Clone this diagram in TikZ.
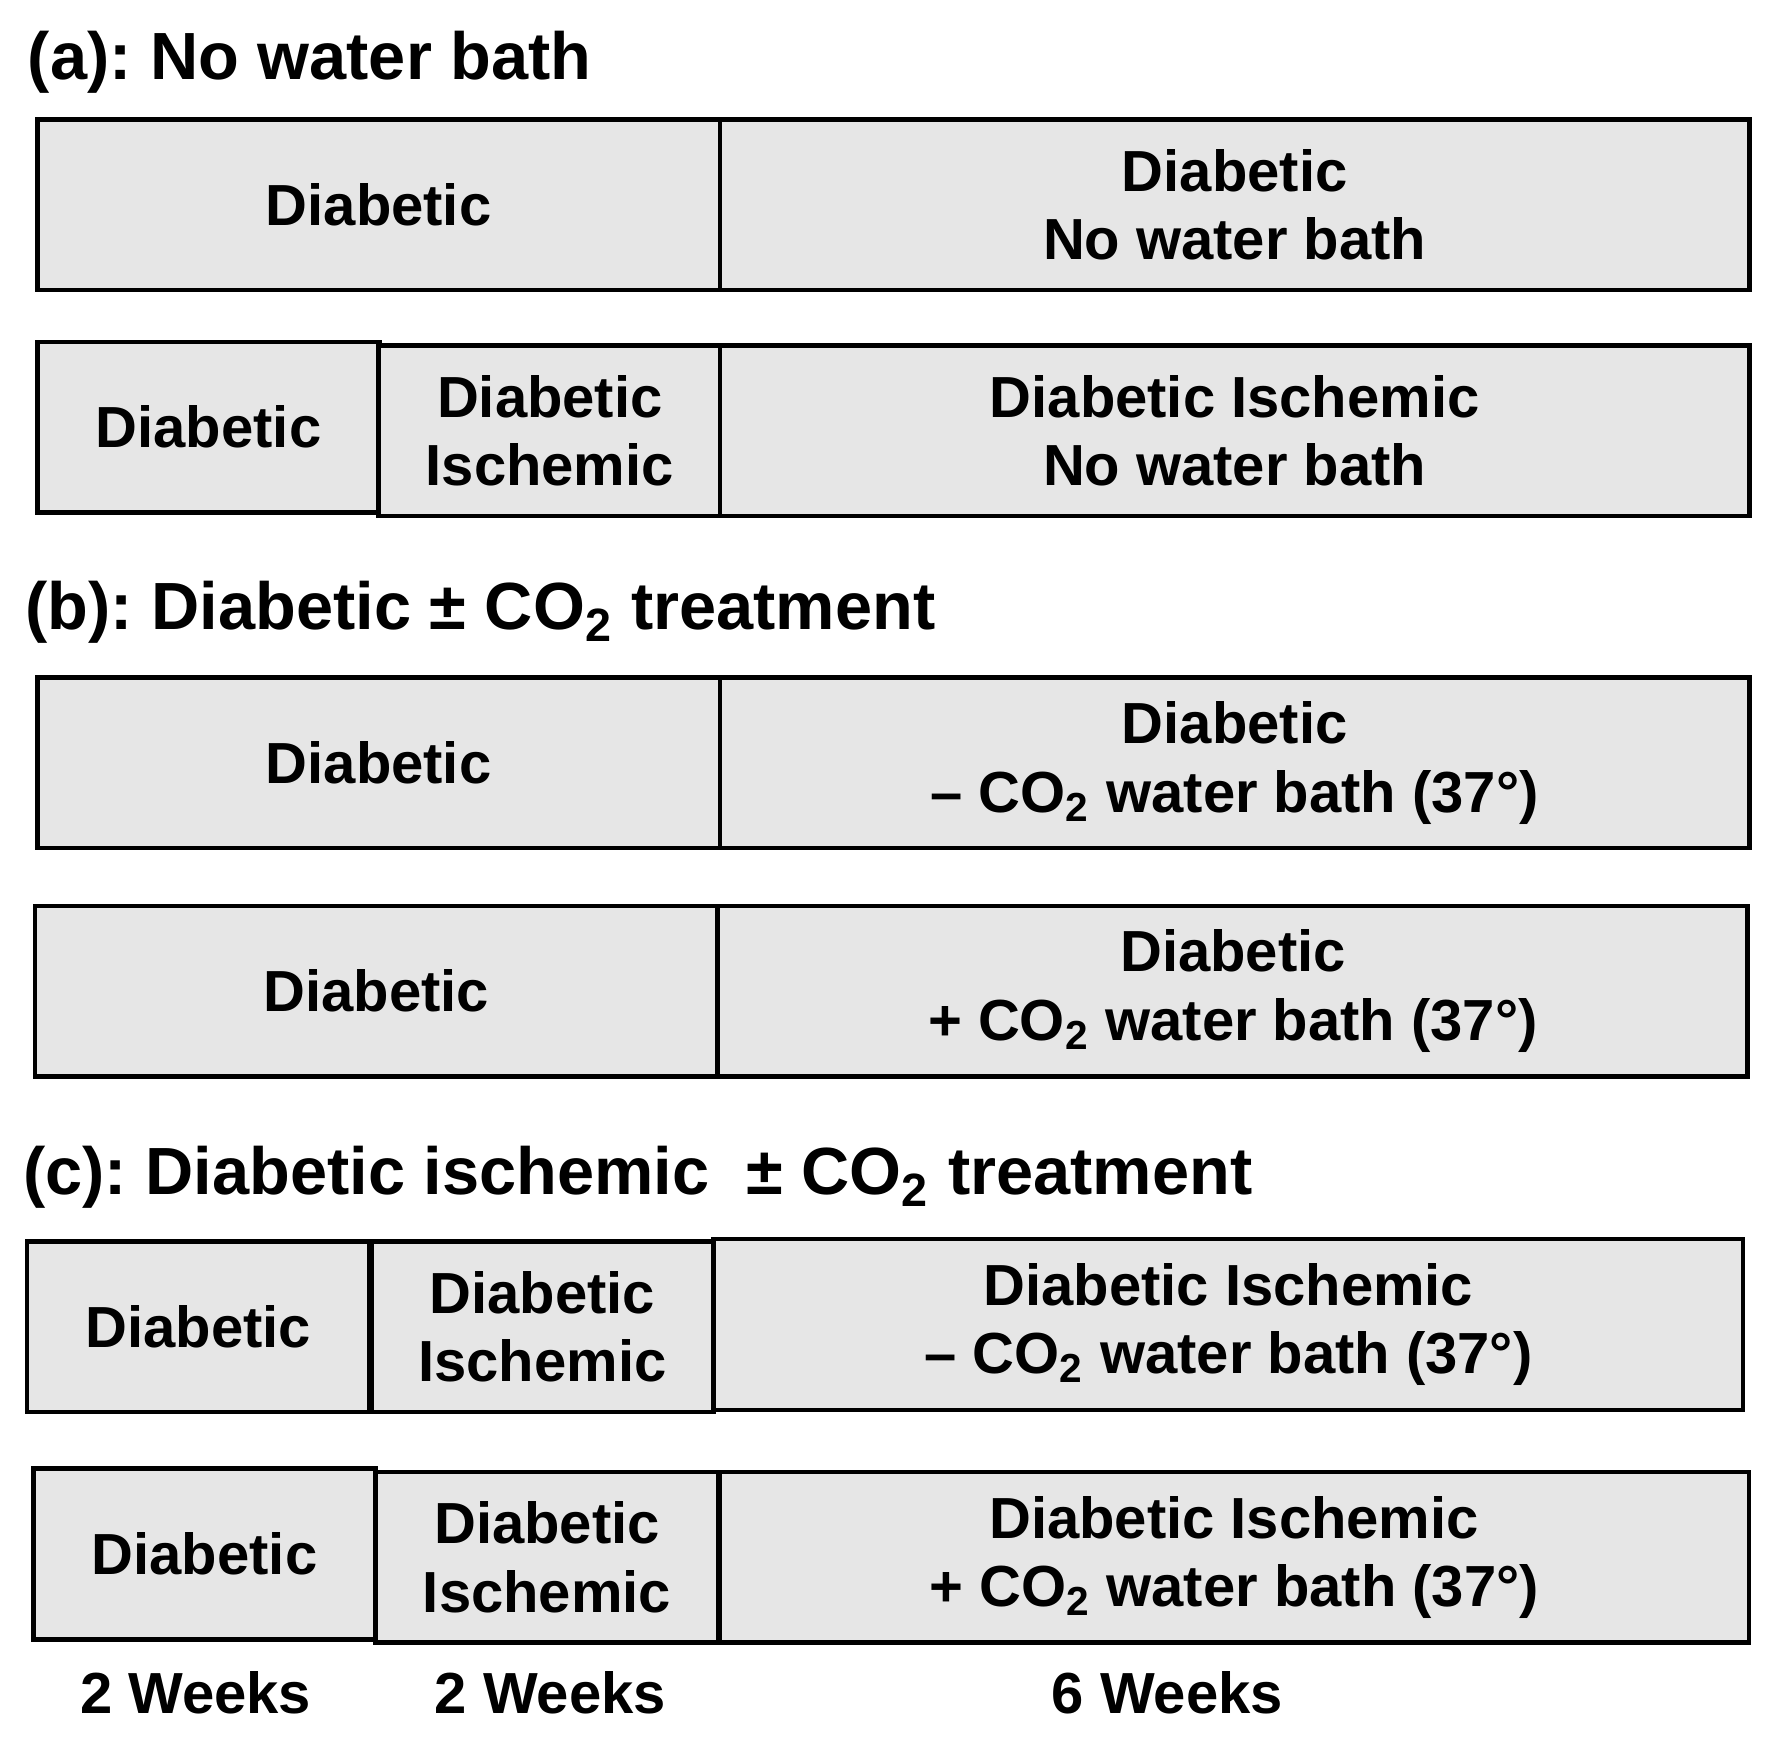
\documentclass[tikz,border=0pt]{standalone}
\usepackage{fontspec}
\setmainfont{Liberation Sans}
\frenchspacing
\newlength\px
\setlength\px{0.0113cm}
\definecolor{phasegray}{RGB}{230,230,230}

\begin{document}
\begin{tikzpicture}[x=0.0113cm, y=-0.0113cm,
    phase/.style={draw, fill=phasegray, line width=1.3pt, align=center, inner sep=0pt,
      minimum height=151*\px, font=\fontsize{16.5}{19.5}\selectfont\bfseries},
    twowk/.style={minimum width=303*\px},
    fourwk/.style={minimum width=604*\px},
    sixwk/.style={minimum width=911*\px},
    heading/.style={anchor=base west, inner sep=0pt, font=\fontsize{19}{22}\selectfont\bfseries},
    weeks/.style={anchor=base, inner sep=0pt, font=\fontsize{16.5}{19.5}\selectfont\bfseries}]
  \useasboundingbox (0,0) rectangle (1568,1544);
  %this draws the headings
  \node [heading] (ha) at (24,70) {(a): No water bath};
  \node [heading] (hb) at (22,557) {(b): Diabetic ± CO\textsubscript{2} treatment};
  \node [heading] (hc) at (20,1057) {(c): Diabetic ischemic \ ± CO\textsubscript{2} treatment};
  %this draws group (a)
  \node [phase, fourwk] (a11) at (335,181) {Diabetic};
  \node [phase, sixwk] (a12) at (1092.5,181) {Diabetic\\No water bath};
  \node [phase, twowk] (a21) at (184.5,378) {Diabetic};
  \node [phase, twowk] (a22) at (486.5,381) {Diabetic\\Ischemic};
  \node [phase, sixwk] (a23) at (1092.5,381) {Diabetic Ischemic\\No water bath};
  %this draws group (b)
  \node [phase, fourwk] (b11) at (335,675) {Diabetic};
  \node [phase, sixwk] (b12) at (1092.5,675) {Diabetic\\– CO\textsubscript{2} water bath (37°)};
  \node [phase, fourwk] (b21) at (333,877) {Diabetic};
  \node [phase, sixwk] (b22) at (1091,877) {Diabetic\\+ CO\textsubscript{2} water bath (37°)};
  %this draws group (c)
  \node [phase, twowk] (c11) at (175.5,1174) {Diabetic};
  \node [phase, twowk] (c12) at (480,1174) {Diabetic\\Ischemic};
  \node [phase, sixwk] (c13) at (1087,1172) {Diabetic Ischemic\\– CO\textsubscript{2} water bath (37°)};
  \node [phase, twowk] (c21) at (181,1375) {Diabetic};
  \node [phase, twowk] (c22) at (484,1378) {Diabetic\\Ischemic};
  \node [phase, sixwk] (c23) at (1092,1378) {Diabetic Ischemic\\+ CO\textsubscript{2} water bath (37°)};
  %this draws the time labels
  \foreach \x/\t [count=\i] in {173/2 Weeks, 487/2 Weeks, 1033/6 Weeks}
    \node [weeks] (w\i) at (\x,1516) {\t};
\end{tikzpicture}
\end{document}
